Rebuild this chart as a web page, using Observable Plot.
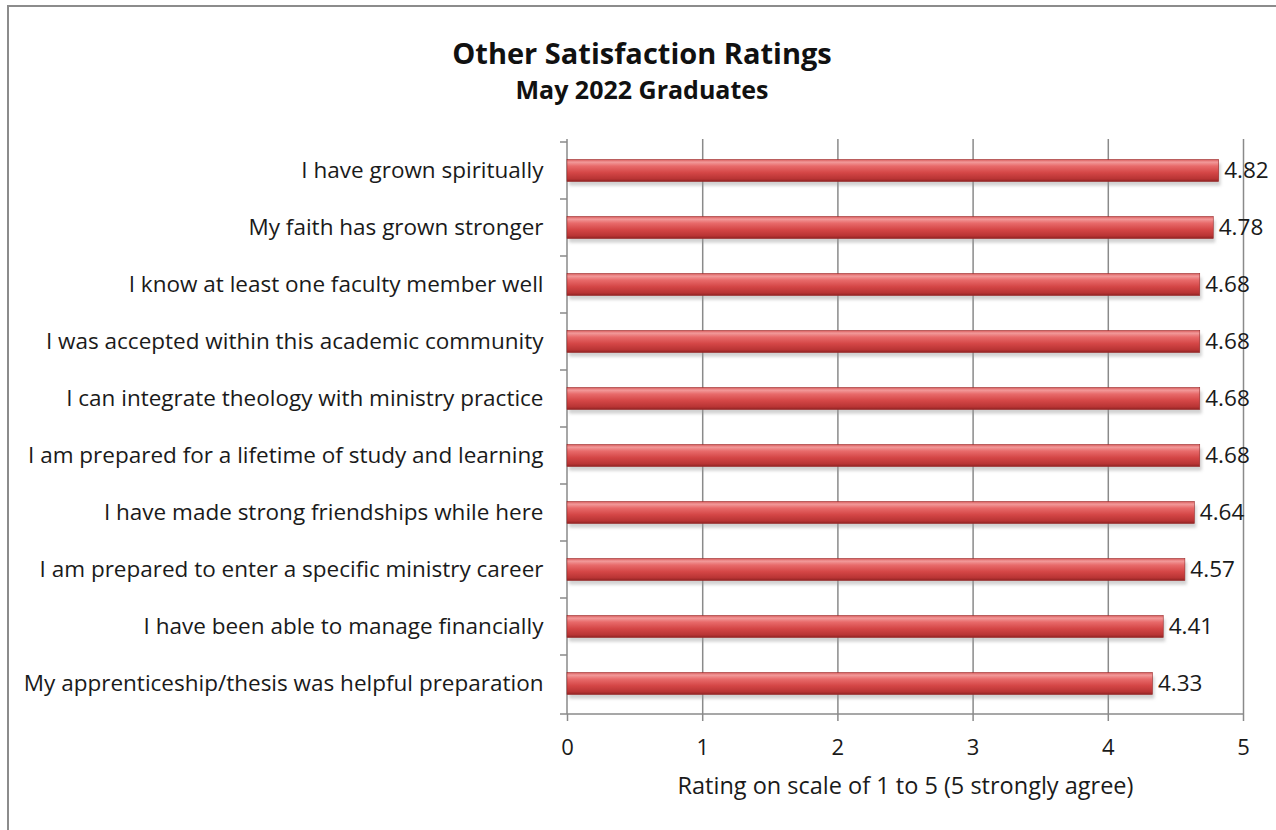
<!DOCTYPE html>
<html>
<head>
<meta charset="utf-8">
<script src="https://cdn.jsdelivr.net/npm/d3@7"></script>
<script src="https://cdn.jsdelivr.net/npm/@observablehq/plot@0.6"></script>
<style>
  body { margin: 0; background: #fff; font-family: "Open Sans", sans-serif; }
  #wrap { position: relative; width: 1276px; height: 830px; overflow: hidden; background: #fff; }
  #frame { position: absolute; left: 7px; top: 5px; width: 1300px; height: 900px; border: 2px solid #8c8c8c; box-sizing: border-box; }
  .ttl { position: absolute; left: 0; width: 1284px; text-align: center; font-weight: bold; color: #111; line-height: 1; white-space: nowrap; }
  #title { top: 38px; font-size: 29px; }
  #subtitle { top: 77px; font-size: 25px; }
  #chart { position: absolute; left: 0; top: 0; }
</style>
</head>
<body>
<div id="wrap">
  <div id="frame"></div>
  <div id="title" class="ttl">Other Satisfaction Ratings</div>
  <div id="subtitle" class="ttl">May 2022 Graduates</div>
  <div id="chart"></div>
</div>
<script>
const categories = [
  "I have grown spiritually",
  "My faith has grown stronger",
  "I know at least one faculty member well",
  "I was accepted within this academic community",
  "I can integrate theology with ministry practice",
  "I am prepared for a lifetime of study and learning",
  "I have made strong friendships while here",
  "I am prepared to enter a specific ministry career",
  "I have been able to manage financially",
  "My apprenticeship/thesis was helpful preparation"
];
const values = [4.82, 4.78, 4.68, 4.68, 4.68, 4.68, 4.64, 4.57, 4.41, 4.33];
const xTicks = [0, 1, 2, 3, 4, 5];
const xLabel = "Rating on scale of 1 to 5 (5 strongly agree)";

const data = categories.map((c, i) => ({category: c, value: values[i]}));

function gradientDefs() {
  const g = document.createElementNS("http://www.w3.org/2000/svg", "g");
  g.innerHTML = `<defs>
    <linearGradient id="barGrad" x1="0" y1="0" x2="0" y2="1">
      <stop offset="0" stop-color="#d85a5a"/>
      <stop offset="0.12" stop-color="#f29a9a"/>
      <stop offset="0.3" stop-color="#e86a6a"/>
      <stop offset="0.6" stop-color="#d44646"/>
      <stop offset="0.88" stop-color="#b83434"/>
      <stop offset="1" stop-color="#8e2222"/>
    </linearGradient>
    <filter id="shadowBlur" x="-5%" y="-50%" width="110%" height="200%">
      <feGaussianBlur stdDeviation="1.8"/>
    </filter>
  </defs>`;
  return g;
}

function axisLines(index, scales, values, dims) {
  const g = d3.create("svg:g").attr("stroke", "#8a8a8a").attr("stroke-width", 1.5).attr("fill", "none");
  const x0 = dims.marginLeft;
  const yt = dims.marginTop;
  const yb = dims.height - dims.marginBottom;
  const xr = dims.width - dims.marginRight;
  g.append("line").attr("x1", x0).attr("x2", x0).attr("y1", yt).attr("y2", yb);
  g.append("line").attr("x1", x0).attr("x2", xr).attr("y1", yb).attr("y2", yb);
  const bounds = categories.map(c => scales.y(c)).concat([yb]);
  for (const b of bounds) {
    g.append("line").attr("x1", x0 - 7).attr("x2", x0).attr("y1", b).attr("y2", b);
  }
  return g.node();
}

function shadowBars(index, scales, values, dims) {
  const g = d3.create("svg:g").attr("filter", "url(#shadowBlur)");
  const bw = scales.y.bandwidth();
  const h = bw * 0.39;
  for (const d of data) {
    const yc = scales.y(d.category) + bw / 2;
    g.append("rect")
      .attr("x", scales.x(0) + 2)
      .attr("y", yc - h / 2 + 4)
      .attr("width", scales.x(d.value) - scales.x(0))
      .attr("height", h)
      .attr("fill", "#9a9a9a")
      .attr("fill-opacity", 0.45);
  }
  return g.node();
}

const chart = Plot.plot({
  width: 1276,
  height: 830,
  marginLeft: 567,
  marginRight: 33,
  marginTop: 139,
  marginBottom: 116,
  style: { fontFamily: "'Open Sans', sans-serif", background: "transparent", color: "#1a1a1a" },
  x: { domain: [0, 5] },
  y: { domain: categories, padding: 0 },
  marks: [
    gradientDefs,
    Plot.gridX(xTicks.filter(t => t > 0), { stroke: "#8a8a8a", strokeOpacity: 1, strokeWidth: 1.5 }),
    axisLines,
    Plot.axisX({ ticks: xTicks, tickSize: 7, tickPadding: 18, fontSize: 22, stroke: "#8a8a8a", strokeWidth: 1.5, label: null, tickFormat: d => String(d), color: "#1a1a1a" }),
    Plot.axisY({ tickSize: 0, tickPadding: 24, fontSize: 22.5, label: null, color: "#1a1a1a" }),
    shadowBars,
    Plot.barX(data, { x: "value", y: "category", fill: "url(#barGrad)", insetTop: 17.5, insetBottom: 17.5, stroke: "#9a2a2a", strokeWidth: 0.6 }),
    Plot.text(data, { x: "value", y: "category", text: d => d.value.toFixed(2), textAnchor: "start", dx: 5, fontSize: 22.5, fill: "#1a1a1a" }),
    Plot.text([xLabel], { frameAnchor: "bottom", dy: 79, fontSize: 23.5, fill: "#1a1a1a" })
  ]
});
document.getElementById("chart").appendChild(chart);
</script>
</body>
</html>
